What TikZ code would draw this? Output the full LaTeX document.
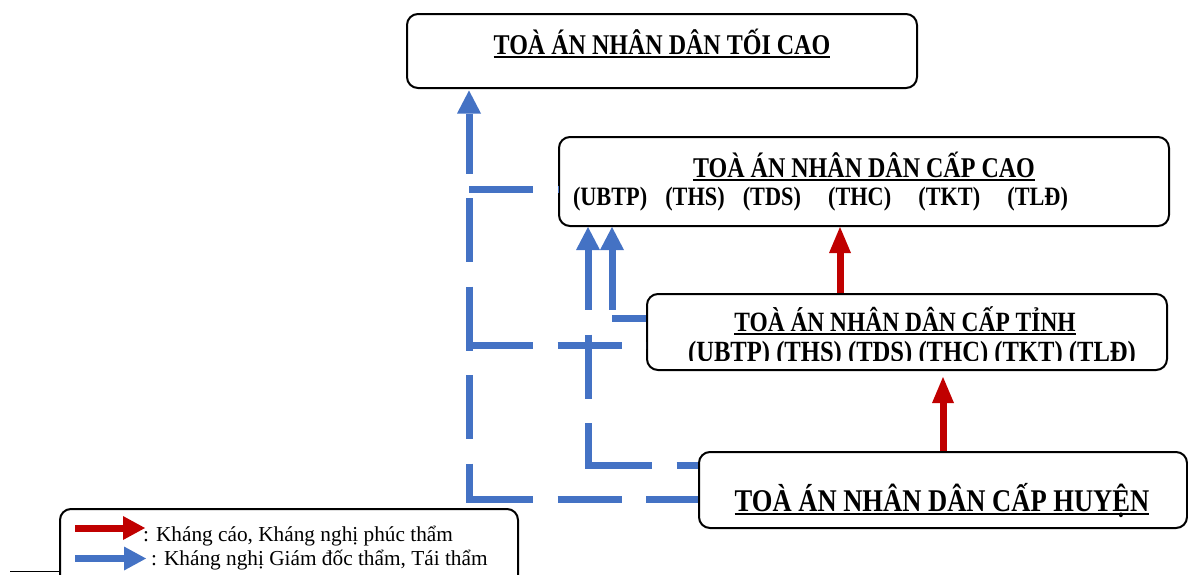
\documentclass[tikz,border=0pt]{standalone}
\usepackage{fontspec}
\setmainfont{Liberation Serif}
\newfontfamily\tfont{Liberation Serif}[FakeStretch=0.84]
\usetikzlibrary{arrows.meta}
\definecolor{myred}{HTML}{C00000}
\definecolor{myblue}{HTML}{4472C4}
\newcommand{\myul}[1]{\setbox0\hbox{#1}\rlap{\rule[-0.13em]{\wd0}{0.075em}}\box0}
\newcommand{\tsz}[1]{\tfont\bfseries\fontsize{#1}{#1}\selectfont}
\newcommand{\lsz}{\rmfamily\fontsize{21.3}{24}\selectfont}
\begin{document}
\begin{tikzpicture}[x=1pt,y=-1pt,
  box/.style={draw=black, line width=2pt, rounded corners=11pt, fill=white, inner sep=0pt},
  txt/.style={inner sep=0pt, outer sep=0pt},
  bhor/.style={draw=myblue, line width=7pt, dash pattern=on 64pt off 24.5pt},
  bvert/.style={draw=myblue, line width=7pt, dash pattern=on 64pt off 24.5pt, dash phase=4pt},
  bhead/.style={{Triangle[length=23pt,width=24pt,line width=0pt]}-},
  rarrow/.style={draw=myred, line width=7pt, -{Triangle[length=26pt,width=22pt,line width=0pt]}},
  legtip/.style={-{Triangle[length=22pt,width=24pt,line width=0pt]}}
]
\useasboundingbox (0,0) rectangle (1188,574);
\clip (0,0) rectangle (1188,574);

% boxes
\node[box, minimum width=510pt, minimum height=74pt] (A) at (662,51) {};
\node[box, minimum width=610pt, minimum height=89pt] (B) at (864,181.5) {};
\node[box, minimum width=520pt, minimum height=76pt] (C) at (907,332) {};
\node[box, minimum width=488pt, minimum height=76pt] (D) at (943,490) {};
\node[box, minimum width=458pt, minimum height=91pt] (E) at (289,554.5) {};

% helper coordinates
\coordinate (L) at (469,503);
\coordinate (h1) at (469,189.5);
\coordinate (h2) at (469,345);
\coordinate (h3) at (469,499.5);
\coordinate (M) at (588,469);
\coordinate (m1) at (588,465.5);
\coordinate (N) at (612,322);
\coordinate (n1) at (612,318.5);
\coordinate (r1) at (840,0);
\coordinate (r2) at (943,0);

% blue connectors
\draw[bvert, bhead, shorten <=1.5pt] (L |- A.south) -- (L);
\draw[bhor] (h1) -- (h1 -| B.west);
\draw[bhor] (h2) -- (h2 -| C.west);
\draw[bhor] (h3) -- (h3 -| D.west);
\draw[bvert, bhead] (M |- B.south) -- (M);
\draw[bhor] (m1) -- (m1 -| D.west);
\draw[bvert, bhead] (N |- B.south) -- (N);
\draw[bhor] (n1) -- (n1 -| C.west);

% red connectors
\draw[rarrow] (r1 |- C.north) -- (r1 |- B.south);
\draw[rarrow, shorten >=6pt] (r2 |- D.north) -- (r2 |- C.south);

% texts
\node[txt, anchor=base] (tA) at (662,54) {\tsz{28.6}\myul{TOÀ ÁN NHÂN DÂN TỐI CAO}};
\node[txt, anchor=base] (tB) at (864,177) {\tsz{28.6}\myul{TOÀ ÁN NHÂN DÂN CẤP CAO}};
\node[txt, anchor=base west] (tB2) at (573,205) {\tsz{26.5}\hbox to 495pt{(UBTP)\hskip 0pt plus 2fill(THS)\hskip 0pt plus 2fill(TDS)\hskip 0pt plus 3fill(THC)\hskip 0pt plus 3fill(TKT)\hskip 0pt plus 3fill(TLĐ)}};
\node[txt, anchor=base] (tC) at (905,331) {\tsz{27.9}\myul{TOÀ ÁN NHÂN DÂN CẤP TỈNH}};
\begin{scope}
\clip (600,300) rectangle (1160,360.5);
\node[txt, anchor=base] (tC2) at (912,361) {\tsz{29.3}(UBTP) (THS) (TDS) (THC) (TKT) (TLĐ)};
\end{scope}
\node[txt, anchor=base] (tD) at (942,511) {\tsz{31.6}\myul{TOÀ ÁN NHÂN DÂN CẤP HUYỆN}};

% legend
\coordinate (lr0) at (75,528);
\coordinate (lr1) at (145,528);
\coordinate (lb0) at (75,558.5);
\coordinate (lb1) at (146,558.5);
\draw[draw=myred, line width=7pt, legtip] (lr0) -- (lr1);
\draw[draw=myblue, line width=7pt, legtip] (lb0) -- (lb1);
\node[txt, anchor=base west] (tE1) at (143,541) {\lsz : Kháng cáo, Kháng nghị phúc thẩm};
\node[txt, anchor=base west] (tE2) at (151,565) {\lsz : Kháng nghị Giám đốc thẩm, Tái thẩm};
\coordinate (k0) at (10,571.5);
\draw[line width=1.5pt] (k0) -- (k0 -| E.west);
\end{tikzpicture}
\end{document}
